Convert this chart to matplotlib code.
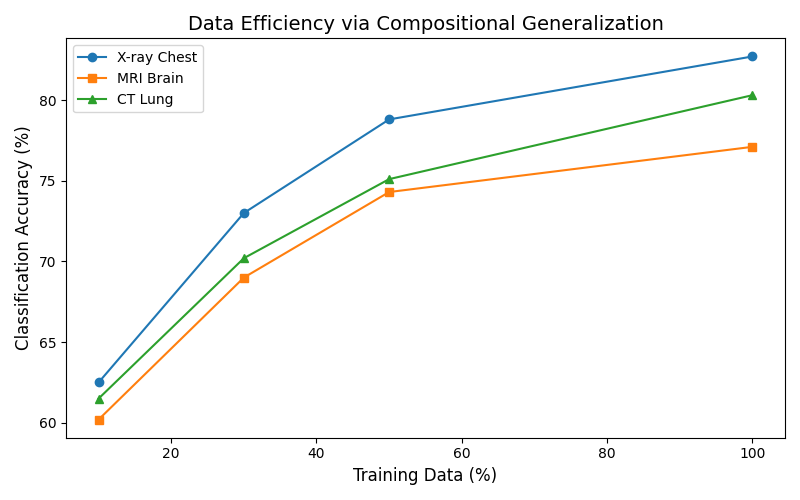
import matplotlib
matplotlib.use('Agg')
import matplotlib.pyplot as plt

# 训练数据比例与各模态准确率
train_pct = [10, 30, 50, 100]
xray_chest = [62.5, 73.0, 78.8, 82.7]
mri_brain = [60.2, 69.0, 74.3, 77.1]
ct_lung = [61.5, 70.2, 75.1, 80.3]

fig, ax = plt.subplots(figsize=(8, 5), dpi=100)
ax.plot(train_pct, xray_chest, marker='o', label='X-ray Chest')
ax.plot(train_pct, mri_brain, marker='s', label='MRI Brain')
ax.plot(train_pct, ct_lung, marker='^', label='CT Lung')

ax.set_title('Data Efficiency via Compositional Generalization', fontsize=14)
ax.set_xlabel('Training Data (%)', fontsize=12)
ax.set_ylabel('Classification Accuracy (%)', fontsize=12)
ax.legend(loc='upper left')

plt.tight_layout()
plt.savefig('out.png', dpi=100)
plt.close()
